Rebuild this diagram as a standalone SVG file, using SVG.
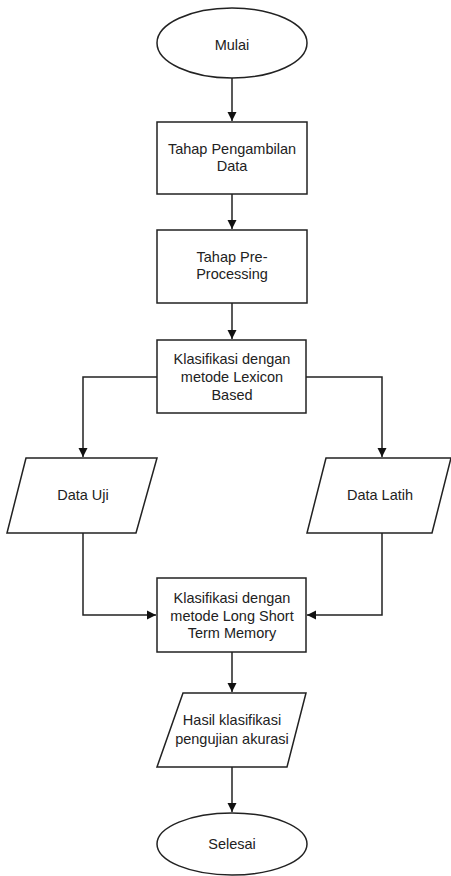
<svg xmlns="http://www.w3.org/2000/svg" width="451" height="876" viewBox="0 0 451 876">
<defs>
<style>
.s{fill:#fff;stroke:#222;stroke-width:1.5}
.t{font-family:"Liberation Sans",Arial,sans-serif;font-size:14.5px;fill:#222;text-anchor:middle}
.c{fill:none;stroke:#222;stroke-width:1.5}
</style>
<marker id="a" markerWidth="10" markerHeight="10" refX="9" refY="5" orient="auto" markerUnits="userSpaceOnUse">
<path d="M0,0.5 L9,5 L0,9.5 Z" fill="#111"/>
</marker>
</defs>
<rect width="451" height="876" fill="#fff"/>
<g id="connectors">
<path class="c" d="M232,78 V121" marker-end="url(#a)"/>
<path class="c" d="M232,194 V229" marker-end="url(#a)"/>
<path class="c" d="M232,303 V339" marker-end="url(#a)"/>
<path class="c" d="M157,377 H83 V457" marker-end="url(#a)"/>
<path class="c" d="M306,377 H382 V457" marker-end="url(#a)"/>
<path class="c" d="M83,533 V615 H156" marker-end="url(#a)"/>
<path class="c" d="M382,533 V615 H307" marker-end="url(#a)"/>
<path class="c" d="M232,652 V692" marker-end="url(#a)"/>
<path class="c" d="M232,767 V812" marker-end="url(#a)"/>
</g>
<g id="mulai">
<ellipse class="s" cx="232" cy="43" rx="75" ry="35"/>
<text class="t" x="232" y="50">Mulai</text>
</g>
<g id="pengambilan">
<rect class="s" x="157" y="122" width="150" height="72"/>
<text class="t" x="232" y="154">Tahap Pengambilan</text>
<text class="t" x="232" y="171">Data</text>
</g>
<g id="preprocessing">
<rect class="s" x="157" y="230" width="150" height="73"/>
<text class="t" x="232" y="262">Tahap Pre-</text>
<text class="t" x="232" y="279">Processing</text>
</g>
<g id="lexicon">
<rect class="s" x="157" y="340" width="149" height="73"/>
<text class="t" x="232" y="364">Klasifikasi dengan</text>
<text class="t" x="232" y="382">metode Lexicon</text>
<text class="t" x="232" y="400">Based</text>
</g>
<g id="datauji">
<polygon class="s" points="26,458 157,458 136,533 7,533"/>
<text class="t" x="83" y="500">Data Uji</text>
</g>
<g id="datalatih">
<polygon class="s" points="326,458 451,458 432,533 307,533"/>
<text class="t" x="380" y="500">Data Latih</text>
</g>
<g id="lstm">
<rect class="s" x="157" y="578" width="149" height="74"/>
<text class="t" x="232" y="603">Klasifikasi dengan</text>
<text class="t" x="232" y="621">metode Long Short</text>
<text class="t" x="232" y="638">Term Memory</text>
</g>
<g id="hasil">
<polygon class="s" points="183,693 306,693 287,767 157,767"/>
<text class="t" x="232" y="725">Hasil klasifikasi</text>
<text class="t" x="232" y="744">pengujian akurasi</text>
</g>
<g id="selesai">
<ellipse class="s" cx="232" cy="844" rx="75" ry="31"/>
<text class="t" x="232" y="849">Selesai</text>
</g>
</svg>
